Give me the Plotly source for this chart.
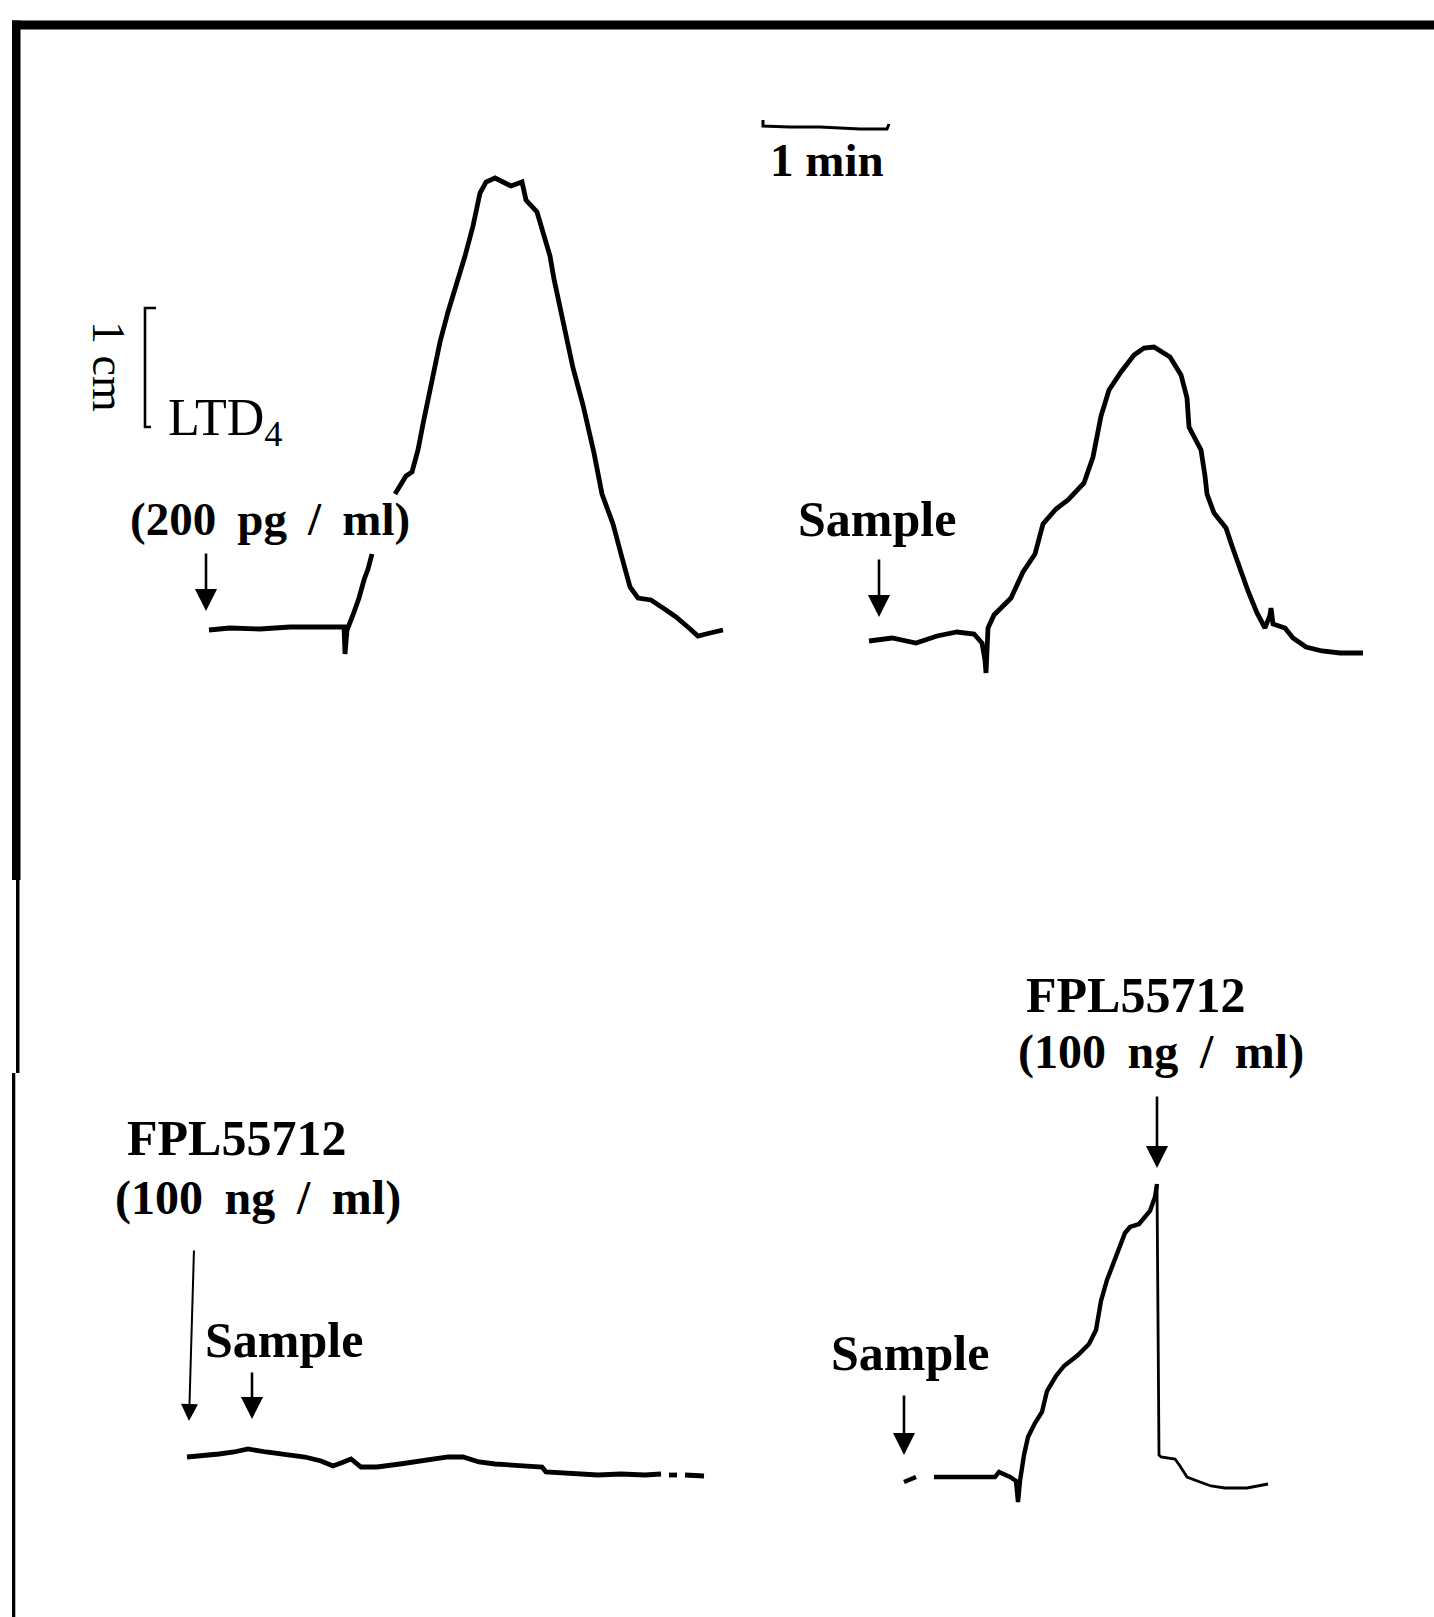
import plotly.graph_objects as go

# ---- recorded traces (page coordinates, x right, y down) ----
ltd4_x = [209, 230, 260, 290, 320, 340, 344, 345, 347, 353, 359, 364, 368, 372, None,
          395, 406, 412, 418, 423, 431, 440, 448, 456, 465, 473, 480, 486, 495, 503, 511,
          522, 526, 537, 543, 550, 554, 560, 566, 573, 583, 588, 594, 602, 613, 621, 630,
          638, 651, 666, 676, 689, 698, 706, 723]
ltd4_y = [630, 628, 629, 627, 627, 626, 627, 654, 630, 615, 598, 580, 569, 554, None,
          494, 476, 472, 450, 424, 383, 342, 312, 286, 256, 226, 193, 182, 178, 182, 186,
          182, 200, 212, 234, 256, 279, 308, 338, 368, 405, 427, 453, 494, 524, 554, 587,
          598, 600, 610, 617, 628, 636, 634, 630]

sample1_x = [869, 892, 916, 937, 957, 974, 982, 985, 986, 988, 994, 1011, 1023, 1035, 1043,
             1056, 1068, 1084, 1093, 1101, 1109, 1121, 1134, 1144, 1154, 1170, 1181, 1187,
             1189, 1201, 1205, 1207, 1214, 1226, 1232, 1240, 1248, 1257, 1265, 1270, 1271,
             1273, 1285, 1293, 1306, 1322, 1340, 1363]
sample1_y = [641, 638, 643, 636, 632, 634, 643, 660, 673, 628, 615, 598, 572, 554, 524,
             509, 500, 483, 457, 416, 390, 372, 355, 348, 347, 357, 375, 398,
             427, 450, 476, 494, 513, 528, 546, 569, 591, 613, 628, 615, 608,
             624, 628, 638, 647, 651, 653, 653]

fpl_pre_x = [187, 203, 219, 234, 248, 266, 286, 305, 321, 333, 341, 351, 361, 377, 400, 424,
             448, 463, 479, 495, 519, 542, 546, 574, 598, 621, 645, 661, None, 669, 677,
             None, 685, 704]
fpl_pre_y = [1457, 1456, 1454, 1452, 1449, 1452, 1454, 1457, 1461, 1466, 1463, 1459, 1467,
             1467, 1464, 1461, 1457, 1457, 1462, 1464, 1466, 1467, 1472, 1473, 1475, 1474,
             1475, 1474, None, 1475, 1475, None, 1475, 1476]

fpl_post_x = [904, 916, None, 934, 967, 995, 999, 1010, 1016, 1018, 1020, 1024, 1028, 1035,
              1042, 1047, 1056, 1064, 1078, 1089, 1096, 1101, 1107, 1114, 1119, 1125, 1130,
              1139, 1150, 1155, 1157]
fpl_post_y = [1482, 1477, None, 1477, 1477, 1477, 1472, 1477, 1481, 1502, 1481, 1455, 1437,
              1423, 1412, 1391, 1376, 1366, 1355, 1344, 1330, 1301, 1280, 1262, 1247, 1233,
              1227, 1224, 1211, 1197, 1184]
fpl_drop_x = [1157, 1158, 1159, 1161, 1175, 1180, 1187, 1200, 1211, 1225, 1247, 1268]
fpl_drop_y = [1184, 1320, 1455, 1457, 1459, 1466, 1477, 1482, 1486, 1488, 1488, 1484]

# ---- scale bars ----
min_bar_x = [763, 763, 790, 820, 860, 887, 889]
min_bar_y = [120, 126, 127, 127, 129, 129, 124]
cm_bar_x = [156, 145, 145, 151]
cm_bar_y = [308, 308, 427, 427]

# ---- arrows: tip x, tip y, tail x, tail y ----
arrow_tip_x = [206, 879, 189, 252, 1157, 904]
arrow_tip_y = [611, 617, 1421, 1419, 1168, 1455]
arrow_tail_x = [206, 879, 194, 252, 1157, 904]
arrow_tail_y = [552, 558, 1249, 1371, 1095, 1394]
arrow_width = [2.6, 2.6, 2.0, 2.6, 2.6, 2.6]

# ---- labels ----
TS = "\u2009"
conc_200 = "<b>(200 " + TS + "pg " + TS + "/ " + TS + "ml)</b>"
conc_100 = "<b>(100 " + TS + "ng " + TS + "/ " + TS + "ml)</b>"
label_text = ["<b>1 min</b>", "LTD<sub>4</sub>", conc_200,
              "<b>Sample</b>", "<b>FPL55712</b>", conc_100,
              "<b>Sample</b>", "<b>Sample</b>", "<b>FPL55712</b>", conc_100]
label_x = [827, 166, 270, 877, 236, 258, 284, 910, 1135, 1161]
label_y = [160, 421, 519, 519, 1138, 1198, 1340, 1353, 995, 1052]
label_anchor = ["center", "left", "center", "center", "center", "center", "center",
                "center", "center", "center"]
label_size = [47, 52, 47, 50, 50, 48, 50, 50, 50, 48]

W, H = 1434, 1617
FONT = "Liberation Serif"

fig = go.Figure()

def line(x, y, w):
    fig.add_trace(go.Scatter(x=x, y=y, mode="lines", connectgaps=False,
                             line=dict(color="black", width=w, shape="linear"),
                             hoverinfo="skip", showlegend=False))

line(ltd4_x, ltd4_y, 4.8)
line(sample1_x, sample1_y, 4.8)
line(fpl_pre_x, fpl_pre_y, 4.8)
line(fpl_post_x, fpl_post_y, 4.4)
line(fpl_drop_x, fpl_drop_y, 2.8)
line(min_bar_x, min_bar_y, 3.0)
line(cm_bar_x, cm_bar_y, 2.6)

for tx, ty, ax, ay, aw in zip(arrow_tip_x, arrow_tip_y, arrow_tail_x, arrow_tail_y, arrow_width):
    fig.add_annotation(x=tx, y=ty, ax=ax, ay=ay, xref="x", yref="y", axref="x", ayref="y",
                       text="", showarrow=True, arrowhead=2, arrowsize=1.7,
                       arrowwidth=aw, arrowcolor="black", standoff=0, startstandoff=0)

for t, x, y, a, s in zip(label_text, label_x, label_y, label_anchor, label_size):
    fig.add_annotation(x=x, y=y, xref="x", yref="y", text=t, showarrow=False,
                       xanchor=a, yanchor="middle",
                       font=dict(family=FONT, size=s, color="black"))

fig.add_annotation(x=109, y=366, xref="x", yref="y", text="1 cm", showarrow=False,
                   textangle=90, xanchor="center", yanchor="middle",
                   font=dict(family=FONT, size=46, color="black"))

# page frame (scanned border)
frame = [(12, 1434, 20.5, 29.5), (12, 20.5, 20.5, 880), (16, 19.5, 880, 1073), (12, 15.3, 1073, 1617)]
for x0, x1, y0, y1 in frame:
    fig.add_shape(type="rect", xref="x", yref="y", x0=x0, x1=x1, y0=y0, y1=y1,
                  fillcolor="black", line=dict(width=0), layer="above")

fig.update_layout(width=W, height=H, margin=dict(l=0, r=0, t=0, b=0),
                  paper_bgcolor="white", plot_bgcolor="white")
fig.update_xaxes(range=[0, W], visible=False, fixedrange=True)
fig.update_yaxes(range=[H, 0], visible=False, fixedrange=True)

fig.write_html("out.html", config={"displayModeBar": False},
               post_script="document.body.style.margin='0px';document.body.style.overflow='hidden';")
